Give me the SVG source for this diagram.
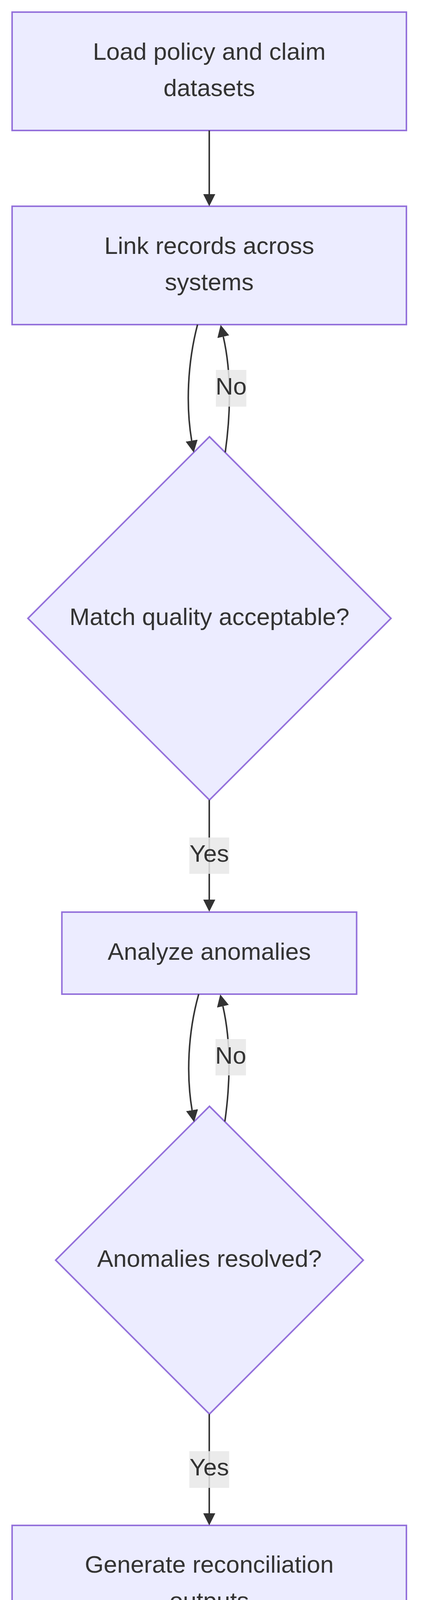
<svg xmlns="http://www.w3.org/2000/svg" width="1104" height="4368" viewBox="0 0 1104 4368">
<style>
.node{fill:#ECECFF;stroke:#9370DB;stroke-width:3.9}
.lbl{font-family:"Liberation Sans",Arial,Helvetica,sans-serif;font-size:62px;fill:#333333;text-anchor:middle}
.edge{fill:none;stroke:#333333;stroke-width:3.9}
.ebg{fill:#e8e8e8;fill-opacity:0.85}
</style>
<defs>
<marker id="arr" viewBox="0 0 10 10" refX="0" refY="5" markerUnits="userSpaceOnUse" markerWidth="31" markerHeight="31" orient="auto">
<path d="M0,0 L10,5 L0,10 z" fill="#333333"/>
</marker>
</defs>
<rect width="1104" height="4368" fill="#ffffff"/>
<g id="node-load">
<rect class="node" x="31" y="31" width="1010" height="303"/>
<text class="lbl" x="536" y="153">Load policy and claim</text>
<text class="lbl" x="536" y="246">datasets</text>
</g>
<g id="node-link">
<rect class="node" x="31" y="528" width="1010" height="303"/>
<text class="lbl" x="536" y="650">Link records across</text>
<text class="lbl" x="536" y="743">systems</text>
</g>
<g id="node-match">
<polygon class="node" points="536.5,1118 1001.5,1583 536.5,2048 71.5,1583"/>
<text class="lbl" x="536.5" y="1600">Match quality acceptable?</text>
</g>
<g id="node-analyze">
<rect class="node" x="158.5" y="2335" width="755" height="210"/>
<text class="lbl" x="536" y="2457">Analyze anomalies</text>
</g>
<g id="node-resolved">
<polygon class="node" points="536.5,2832 930.5,3226 536.5,3620 142.5,3226"/>
<text class="lbl" x="536.5" y="3243">Anomalies resolved?</text>
</g>
<g id="node-generate">
<rect class="node" x="31" y="3905" width="1010" height="303"/>
<text class="lbl" x="536" y="4026">Generate reconciliation</text>
<text class="lbl" x="536" y="4119">outputs</text>
</g>
<g id="connectors">
<path class="edge" d="M536,334 L536,497" marker-end="url(#arr)"/>
<path class="edge" d="M506,831 C480,930 476,1040 491,1128" marker-end="url(#arr)"/>
<path class="edge" d="M577,1158 C592,1050 592,950 572,862" marker-end="url(#arr)"/>
<path class="edge" d="M536,2048 L536,2303" marker-end="url(#arr)"/>
<path class="edge" d="M509,2545 C481,2644 477,2754 492,2842" marker-end="url(#arr)"/>
<path class="edge" d="M576,2871 C591,2764 591,2664 571,2576" marker-end="url(#arr)"/>
<path class="edge" d="M536,3620 L536,3874" marker-end="url(#arr)"/>
<g id="label-no-1">
<rect class="ebg" x="553" y="947" width="78" height="94"/>
<text class="lbl" x="592" y="1010">No</text>
</g>
<g id="label-yes-1">
<rect class="ebg" x="485" y="2144" width="102" height="93"/>
<text class="lbl" x="536" y="2206">Yes</text>
</g>
<g id="label-no-2">
<rect class="ebg" x="552" y="2660" width="78" height="93"/>
<text class="lbl" x="591" y="2723">No</text>
</g>
<g id="label-yes-2">
<rect class="ebg" x="485" y="3715" width="102" height="94"/>
<text class="lbl" x="536" y="3777">Yes</text>
</g>
</g>
</svg>
